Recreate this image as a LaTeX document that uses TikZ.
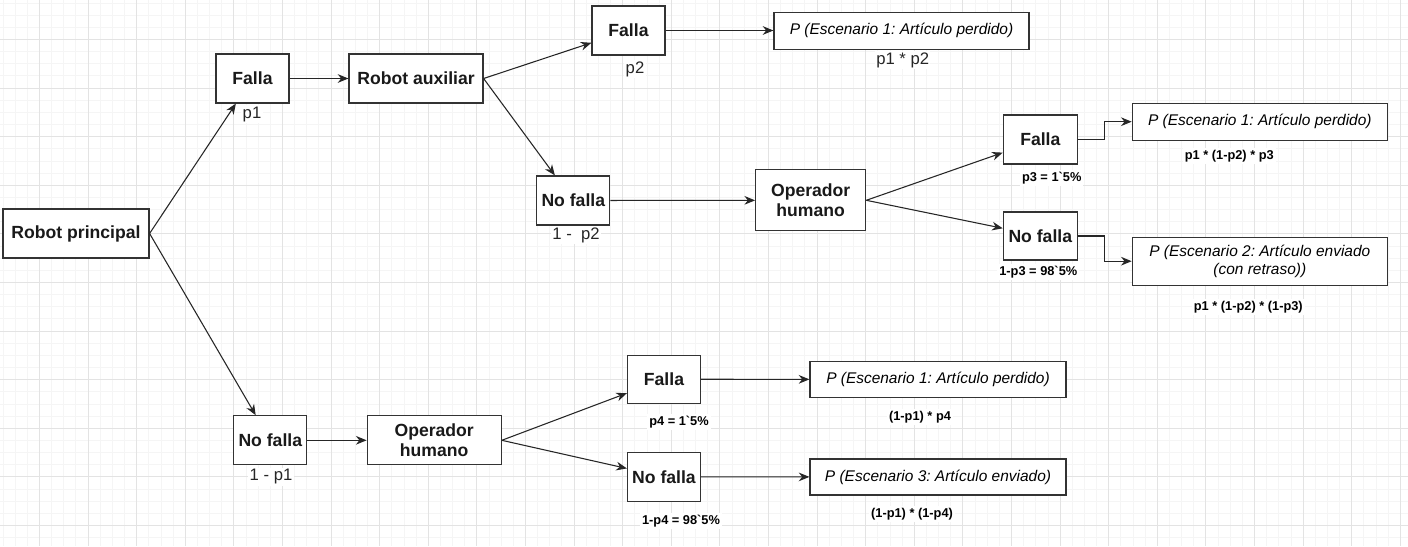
\documentclass[tikz,border=0pt]{standalone}
\usepackage{fontspec}
\setmainfont{Liberation Sans}[Ligatures=TeXOff]
\usetikzlibrary{arrows.meta}
\usetikzlibrary{calc}

\begin{document}
\begin{tikzpicture}[
        x=0.75pt, y=-0.75pt,
        tam/.style 2 args={minimum width=#1*0.75pt, minimum height=#2*0.75pt},
        caja/.style={draw=black!80, line width=0.9pt, fill=white, inner sep=0pt, align=center, text=black!90,
            font=\fontsize{13.2}{15}\selectfont\bfseries},
        escenario/.style={draw=black!80, line width=0.9pt, fill=white, inner sep=0pt, align=center, text=black,
            font=\fontsize{11.6}{13.5}\selectfont\itshape\frenchspacing},
        prob/.style={fill=white, inner sep=1pt, text=black!85, font=\fontsize{12.5}{14}\selectfont},
        probb/.style={fill=white, inner sep=1.5pt, text=black, font=\fontsize{9.6}{11}\selectfont\bfseries},
        flecha/.style={-{Stealth[length=8pt, width=6.5pt]}, line width=0.8pt, draw=black!85},
        gridmenor/.style={line width=0.4pt, black!4},
        gridmayor/.style={line width=0.5pt, black!11}
    ]
        % --- Fondo y cuadricula ---
        \useasboundingbox (0,0) rectangle (1408,546);
        \fill[white] (0,0) rectangle (1408,546);
        \foreach \k in {0,...,115} {\draw[gridmenor] ({2.85+12.15*\k},0) -- ({2.85+12.15*\k},546);}
        \foreach \k in {0,...,44} {\draw[gridmenor] (0,{2.85+12.15*\k}) -- (1408,{2.85+12.15*\k});}
        \foreach \k in {0,...,28} {\draw[gridmayor] ({39.3+48.6*\k},0) -- ({39.3+48.6*\k},546);}
        \foreach \k in {0,...,10} {\draw[gridmayor] (0,{39.3+48.6*\k}) -- (1408,{39.3+48.6*\k});}

        % --- Rama superior: fallo del robot principal ---
        \node[caja, tam={146}{49}] (rp) at (76,233.5) {Robot principal};
        \node[caja, tam={73}{49}] (f1) at (252.5,78.5) {Falla};
        \node[caja, tam={134}{49}] (ra) at (416,78.5) {Robot auxiliar};
        \node[caja, tam={73}{49}] (f2) at (628.5,30.5) {Falla};
        \node[escenario, tam={255}{37}] (e1) at (901.5,30.7) {P (Escenario 1: Artículo perdido)};
        \node[caja, tam={73}{49}] (nf2) at (573.3,200.5) {No falla};
        \node[caja, tam={110}{61}] (oh1) at (810.7,200.3) {Operador\\humano};
        \node[caja, tam={74}{49}] (f3) at (1040.3,139.5) {Falla};
        \node[caja, tam={74}{48}] (nf3) at (1040.3,236) {No falla};
        \node[escenario, tam={255}{37}] (e2) at (1259.8,121.7) {P (Escenario 1: Artículo perdido)};
        \node[escenario, tam={255}{48}] (e3) at (1259.8,261.2) {P (Escenario 2: Artículo enviado\\(con retraso))};

        % --- Rama inferior: robot principal sin fallo ---
        \node[caja, tam={73}{49}] (nf1) at (270.3,440.3) {No falla};
        \node[caja, tam={134}{49}] (oh2) at (434.2,440.3) {Operador\\humano};
        \node[caja, tam={73}{48}] (f4) at (664,379.2) {Falla};
        \node[caja, tam={73}{49}] (nf4) at (664,476.8) {No falla};
        \node[escenario, tam={256}{36}] (e4) at (938,379.5) {P (Escenario 1: Artículo perdido)};
        \node[escenario, tam={256}{36}] (e5) at (938,477) {P (Escenario 3: Artículo enviado)};

        % --- Probabilidades ---
        \node[prob] (lp1) at (252,114) {p1};
        \node[prob] (lp2) at (635,69) {p2};
        \node[prob] (l1p2) at (576,235.3) {1 -\ \ p2};
        \node[prob] (lp1p2) at (902.7,60) {p1 * p2};
        \node[prob] (l1p1) at (271,476.7) {1 - p1};
        \node[probb] (lp3) at (1051.7,177.7) {p3 = 1`5\%};
        \node[probb] (l1p3) at (1038.3,272.3) {1-p3 = 98`5\%};
        \node[probb] (lr2) at (1229.3,156) {p1 * (1-p2) * p3};
        \node[probb] (lr3) at (1248.3,306.7) {p1 * (1-p2) * (1-p3)};
        \node[probb] (lp4) at (679,421.7) {p4 = 1`5\%};
        \node[probb] (l1p4) at (681,520.7) {1-p4 = 98`5\%};
        \node[probb] (lr4) at (920,417.3) {(1-p1) * p4};
        \node[probb] (lr5) at (912,514) {(1-p1) * (1-p4)};

        % --- Conexiones ---
        \draw[flecha] (rp.east) -- (f1);
        \draw[flecha] (rp.east) -- (nf1);
        \draw[flecha] (f1) -- (ra);
        \draw[flecha] (ra.east) -- (f2);
        \draw[flecha] (ra.east) -- (nf2);
        \draw[flecha] (f2.east) -- (f2.east -| e1.west);
        \draw[flecha] (nf2) -- (oh1);
        \draw[flecha] (oh1.east) -- (f3);
        \draw[flecha] (oh1.east) -- (nf3);
        \draw[flecha] (f3.east) -| ($(f3.east)!0.5!(e2.west)$) |- (e2.west);
        \draw[flecha] (nf3.east) -| ($(nf3.east)!0.5!(e3.west)$) |- (e3.west);
        \draw[flecha] (nf1) -- (oh2);
        \draw[flecha] (oh2.east) -- (f4);
        \draw[flecha] (oh2.east) -- (nf4);
        \draw[flecha] (f4) -- (e4);
        \draw[flecha] (nf4) -- (e5);

    \end{tikzpicture}
\end{document}
